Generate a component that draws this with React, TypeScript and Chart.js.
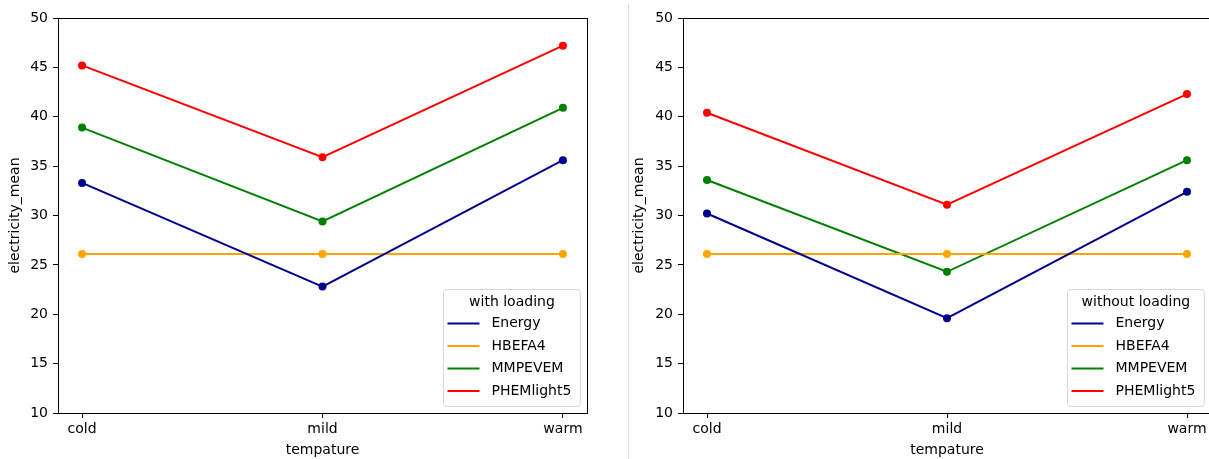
import React, { useEffect, useRef } from 'react';
import { Chart, registerables } from 'chart.js';

Chart.register(...registerables);

const categories = ['cold', 'mild', 'warm'];
const seriesNames = ['Energy', 'HBEFA4', 'MMPEVEM', 'PHEMlight5'];
const seriesColors = ['#00008B', '#FFA500', '#008000', '#FF0000'];
const yTickValues = [10, 15, 20, 25, 30, 35, 40, 45, 50];

const withEnergy = [33.3, 22.8, 35.6];
const withHBEFA4 = [26.1, 26.1, 26.1];
const withMMPEVEM = [38.9, 29.4, 40.9];
const withPHEMlight5 = [45.2, 35.9, 47.2];

const withoutEnergy = [30.2, 19.6, 32.4];
const withoutHBEFA4 = [26.1, 26.1, 26.1];
const withoutMMPEVEM = [33.6, 24.3, 35.6];
const withoutPHEMlight5 = [40.4, 31.1, 42.3];

const FONT_SIZE = 14;

type PanelProps = {
  left: number;
  width: number;
  height: number;
  areaLeft: number;
  areaRight: number;
  titlePadTop: number;
  legendTitle: string;
  series: number[][];
};

function Panel({ left, width, height, areaLeft, areaRight, titlePadTop, legendTitle, series }: PanelProps) {
  const ref = useRef<HTMLCanvasElement>(null);

  useEffect(() => {
    const canvas = ref.current!;
    const font = { family: 'DejaVu Sans', size: FONT_SIZE };

    const datasets = seriesNames.map((name, i) => ({
      label: name,
      data: series[i].map((v, j) => ({ x: j, y: v })),
      borderColor: seriesColors[i],
      backgroundColor: seriesColors[i],
      pointBackgroundColor: seriesColors[i],
      pointBorderColor: seriesColors[i],
      pointBorderWidth: 0,
      pointRadius: 4,
      borderWidth: 2,
      tension: 0,
      fill: false,
    }));

    const framePlugin = {
      id: 'frame',
      afterDraw(chart: any) {
        const { ctx, chartArea: a } = chart;
        ctx.save();
        ctx.strokeStyle = '#000';
        ctx.lineWidth = 1;
        const l = Math.round(a.left - 0.5) + 0.5;
        const t = Math.round(a.top - 0.5) + 0.5;
        const r = Math.round(a.right - 0.5) + 0.5;
        const b = Math.round(a.bottom - 0.5) + 0.5;
        ctx.strokeRect(l, t, r - l, b - t);
        ctx.restore();
      },
    };

    const legendPlugin = {
      id: 'mplLegend',
      afterDraw(chart: any) {
        const { ctx, chartArea: a } = chart;
        ctx.save();
        ctx.font = `${FONT_SIZE}px "DejaVu Sans"`;
        const labelW = Math.max(...seriesNames.map((n) => ctx.measureText(n).width));
        const titleW = ctx.measureText(legendTitle).width;
        const w = Math.max(48 + labelW + 9, titleW + 16);
        const h = 117;
        const right = a.right - 7;
        const bottom = a.bottom - 7;
        const x0 = Math.round(right - w) + 0.5;
        const y0 = Math.round(bottom - h) + 0.5;
        ctx.beginPath();
        ctx.roundRect(x0, y0, w, h, 3);
        ctx.fillStyle = 'rgba(255,255,255,0.8)';
        ctx.fill();
        ctx.strokeStyle = '#d6d6d6';
        ctx.lineWidth = 1;
        ctx.stroke();

        ctx.fillStyle = '#000';
        ctx.textBaseline = 'middle';
        ctx.textAlign = 'center';
        ctx.fillText(legendTitle, x0 + w / 2, y0 + 13);
        ctx.textAlign = 'left';
        seriesNames.forEach((n, i) => {
          const y = y0 + 34 + i * 22.5;
          ctx.beginPath();
          ctx.strokeStyle = seriesColors[i];
          ctx.lineWidth = 2;
          ctx.moveTo(x0 + 4, y);
          ctx.lineTo(x0 + 36, y);
          ctx.stroke();
          ctx.fillStyle = '#000';
          ctx.fillText(n, x0 + 48, y);
        });
        ctx.restore();
      },
    };

    const chart = new Chart(canvas, {
      type: 'line',
      data: { datasets },
      plugins: [framePlugin, legendPlugin],
      options: {
        responsive: false,
        animation: false,
        devicePixelRatio: 1,
        layout: { padding: { top: 18, left: 0, right: width - areaRight, bottom: 0 } },
        plugins: {
          legend: { display: false },
          tooltip: { enabled: false },
        },
        scales: {
          x: {
            type: 'linear',
            min: -0.1,
            max: 2.1,
            afterBuildTicks: (s: any) => {
              s.ticks = categories.map((_, i) => ({ value: i }));
            },
            afterFit: (s: any) => {
              s.height = height - 413;
            },
            ticks: {
              callback: (v: any) => categories[v] ?? '',
              font,
              color: '#000',
              padding: 3,
              maxRotation: 0,
              autoSkip: false,
            },
            grid: { drawOnChartArea: false, drawTicks: true, tickLength: 5, color: '#000' },
            border: { display: true, color: '#000', width: 1 },
            title: { display: true, text: 'tempature', font, color: '#000', padding: { top: 0, bottom: 0 } },
          },
          y: {
            type: 'linear',
            min: 10,
            max: 50,
            afterBuildTicks: (s: any) => {
              s.ticks = yTickValues.map((v) => ({ value: v }));
            },
            afterFit: (s: any) => {
              s.width = areaLeft;
            },
            ticks: { font, color: '#000', padding: 5 },
            grid: { drawOnChartArea: false, drawTicks: true, tickLength: 5, color: '#000' },
            border: { display: true, color: '#000', width: 1 },
            title: {
              display: true,
              text: 'electricity_mean',
              font,
              color: '#000',
              padding: { top: titlePadTop, bottom: 0 },
            },
          },
        },
      },
    } as any);
    return () => chart.destroy();
  }, []);

  return (
    <canvas
      ref={ref}
      width={width}
      height={height}
      style={{ position: 'absolute', left, top: 0, width, height }}
    />
  );
}

export default function App() {
  return (
    <div
      style={{
        position: 'fixed',
        left: 0,
        top: 0,
        width: 1209,
        height: 459,
        overflow: 'hidden',
        background: '#fff',
      }}
    >
      <Panel
        left={0}
        width={628}
        height={459}
        areaLeft={58}
        areaRight={587}
        titlePadTop={7}
        legendTitle="with loading"
        series={[withEnergy, withHBEFA4, withMMPEVEM, withPHEMlight5]}
      />
      <div style={{ position: 'absolute', left: 628, top: 4, width: 1, height: 455, background: '#dcdcdc' }} />
      <Panel
        left={629}
        width={600}
        height={459}
        areaLeft={54}
        areaRight={582}
        titlePadTop={2}
        legendTitle="without loading"
        series={[withoutEnergy, withoutHBEFA4, withoutMMPEVEM, withoutPHEMlight5]}
      />
    </div>
  );
}
